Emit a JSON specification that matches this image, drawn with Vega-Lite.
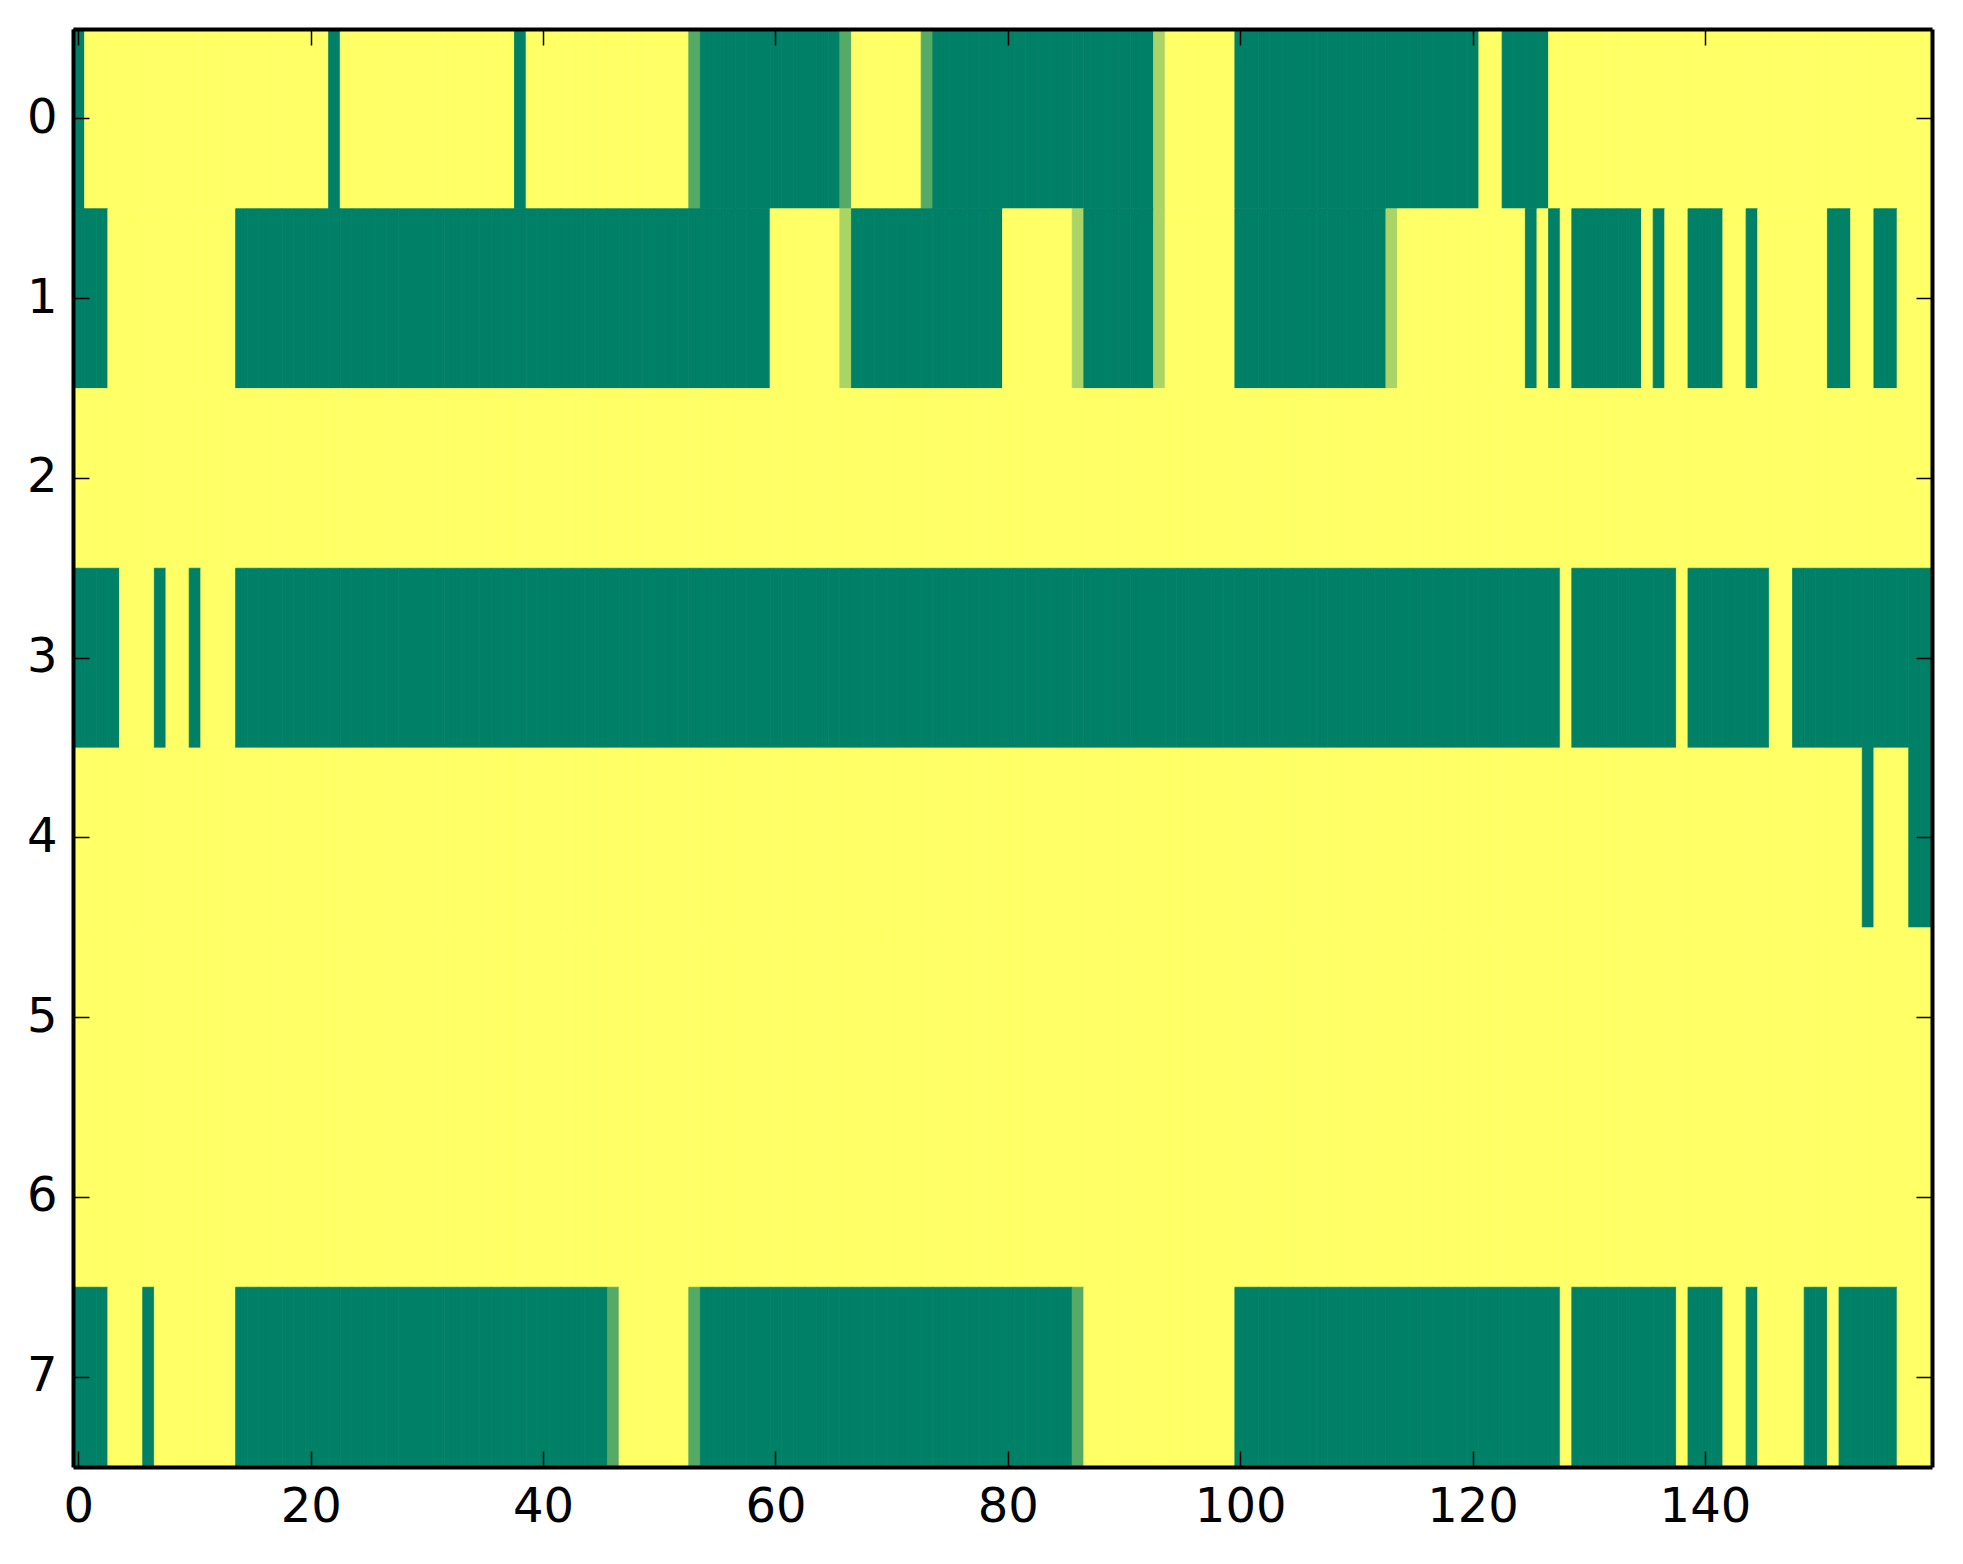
{
  "$schema": "https://vega.github.io/schema/vega-lite/v6.json",
  "width": 1859,
  "height": 1438,
  "autosize": {"type": "none"},
  "padding": {"left": 73, "top": 29, "right": 31, "bottom": 97},
  "background": "white",
  "config": {"view": {"stroke": null}},
  "datasets": {
    "cells": [
{"c":0,"r":0,"v":0},{"c":1,"r":0,"v":1},{"c":2,"r":0,"v":1},{"c":3,"r":0,"v":1},{"c":4,"r":0,"v":1},{"c":5,"r":0,"v":1},{"c":6,"r":0,"v":1},{"c":7,"r":0,"v":1},{"c":8,"r":0,"v":1},{"c":9,"r":0,"v":1},
{"c":10,"r":0,"v":1},{"c":11,"r":0,"v":1},{"c":12,"r":0,"v":1},{"c":13,"r":0,"v":1},{"c":14,"r":0,"v":1},{"c":15,"r":0,"v":1},{"c":16,"r":0,"v":1},{"c":17,"r":0,"v":1},{"c":18,"r":0,"v":1},{"c":19,"r":0,"v":1},
{"c":20,"r":0,"v":1},{"c":21,"r":0,"v":1},{"c":22,"r":0,"v":0},{"c":23,"r":0,"v":1},{"c":24,"r":0,"v":1},{"c":25,"r":0,"v":1},{"c":26,"r":0,"v":1},{"c":27,"r":0,"v":1},{"c":28,"r":0,"v":1},{"c":29,"r":0,"v":1},
{"c":30,"r":0,"v":1},{"c":31,"r":0,"v":1},{"c":32,"r":0,"v":1},{"c":33,"r":0,"v":1},{"c":34,"r":0,"v":1},{"c":35,"r":0,"v":1},{"c":36,"r":0,"v":1},{"c":37,"r":0,"v":1},{"c":38,"r":0,"v":0},{"c":39,"r":0,"v":1},
{"c":40,"r":0,"v":1},{"c":41,"r":0,"v":1},{"c":42,"r":0,"v":1},{"c":43,"r":0,"v":1},{"c":44,"r":0,"v":1},{"c":45,"r":0,"v":1},{"c":46,"r":0,"v":1},{"c":47,"r":0,"v":1},{"c":48,"r":0,"v":1},{"c":49,"r":0,"v":1},
{"c":50,"r":0,"v":1},{"c":51,"r":0,"v":1},{"c":52,"r":0,"v":1},{"c":53,"r":0,"v":0.333},{"c":54,"r":0,"v":0},{"c":55,"r":0,"v":0},{"c":56,"r":0,"v":0},{"c":57,"r":0,"v":0},{"c":58,"r":0,"v":0},{"c":59,"r":0,"v":0},
{"c":60,"r":0,"v":0},{"c":61,"r":0,"v":0},{"c":62,"r":0,"v":0},{"c":63,"r":0,"v":0},{"c":64,"r":0,"v":0},{"c":65,"r":0,"v":0},{"c":66,"r":0,"v":0.333},{"c":67,"r":0,"v":1},{"c":68,"r":0,"v":1},{"c":69,"r":0,"v":1},
{"c":70,"r":0,"v":1},{"c":71,"r":0,"v":1},{"c":72,"r":0,"v":1},{"c":73,"r":0,"v":0.333},{"c":74,"r":0,"v":0},{"c":75,"r":0,"v":0},{"c":76,"r":0,"v":0},{"c":77,"r":0,"v":0},{"c":78,"r":0,"v":0},{"c":79,"r":0,"v":0},
{"c":80,"r":0,"v":0},{"c":81,"r":0,"v":0},{"c":82,"r":0,"v":0},{"c":83,"r":0,"v":0},{"c":84,"r":0,"v":0},{"c":85,"r":0,"v":0},{"c":86,"r":0,"v":0},{"c":87,"r":0,"v":0},{"c":88,"r":0,"v":0},{"c":89,"r":0,"v":0},
{"c":90,"r":0,"v":0},{"c":91,"r":0,"v":0},{"c":92,"r":0,"v":0},{"c":93,"r":0,"v":0.667},{"c":94,"r":0,"v":1},{"c":95,"r":0,"v":1},{"c":96,"r":0,"v":1},{"c":97,"r":0,"v":1},{"c":98,"r":0,"v":1},{"c":99,"r":0,"v":1},
{"c":100,"r":0,"v":0},{"c":101,"r":0,"v":0},{"c":102,"r":0,"v":0},{"c":103,"r":0,"v":0},{"c":104,"r":0,"v":0},{"c":105,"r":0,"v":0},{"c":106,"r":0,"v":0},{"c":107,"r":0,"v":0},{"c":108,"r":0,"v":0},{"c":109,"r":0,"v":0},
{"c":110,"r":0,"v":0},{"c":111,"r":0,"v":0},{"c":112,"r":0,"v":0},{"c":113,"r":0,"v":0},{"c":114,"r":0,"v":0},{"c":115,"r":0,"v":0},{"c":116,"r":0,"v":0},{"c":117,"r":0,"v":0},{"c":118,"r":0,"v":0},{"c":119,"r":0,"v":0},
{"c":120,"r":0,"v":0},{"c":121,"r":0,"v":1},{"c":122,"r":0,"v":1},{"c":123,"r":0,"v":0},{"c":124,"r":0,"v":0},{"c":125,"r":0,"v":0},{"c":126,"r":0,"v":0},{"c":127,"r":0,"v":1},{"c":128,"r":0,"v":1},{"c":129,"r":0,"v":1},
{"c":130,"r":0,"v":1},{"c":131,"r":0,"v":1},{"c":132,"r":0,"v":1},{"c":133,"r":0,"v":1},{"c":134,"r":0,"v":1},{"c":135,"r":0,"v":1},{"c":136,"r":0,"v":1},{"c":137,"r":0,"v":1},{"c":138,"r":0,"v":1},{"c":139,"r":0,"v":1},
{"c":140,"r":0,"v":1},{"c":141,"r":0,"v":1},{"c":142,"r":0,"v":1},{"c":143,"r":0,"v":1},{"c":144,"r":0,"v":1},{"c":145,"r":0,"v":1},{"c":146,"r":0,"v":1},{"c":147,"r":0,"v":1},{"c":148,"r":0,"v":1},{"c":149,"r":0,"v":1},
{"c":150,"r":0,"v":1},{"c":151,"r":0,"v":1},{"c":152,"r":0,"v":1},{"c":153,"r":0,"v":1},{"c":154,"r":0,"v":1},{"c":155,"r":0,"v":1},{"c":156,"r":0,"v":1},{"c":157,"r":0,"v":1},{"c":158,"r":0,"v":1},{"c":159,"r":0,"v":1},

{"c":0,"r":1,"v":0},{"c":1,"r":1,"v":0},{"c":2,"r":1,"v":0},{"c":3,"r":1,"v":1},{"c":4,"r":1,"v":1},{"c":5,"r":1,"v":1},{"c":6,"r":1,"v":1},{"c":7,"r":1,"v":1},{"c":8,"r":1,"v":1},{"c":9,"r":1,"v":1},
{"c":10,"r":1,"v":1},{"c":11,"r":1,"v":1},{"c":12,"r":1,"v":1},{"c":13,"r":1,"v":1},{"c":14,"r":1,"v":0},{"c":15,"r":1,"v":0},{"c":16,"r":1,"v":0},{"c":17,"r":1,"v":0},{"c":18,"r":1,"v":0},{"c":19,"r":1,"v":0},
{"c":20,"r":1,"v":0},{"c":21,"r":1,"v":0},{"c":22,"r":1,"v":0},{"c":23,"r":1,"v":0},{"c":24,"r":1,"v":0},{"c":25,"r":1,"v":0},{"c":26,"r":1,"v":0},{"c":27,"r":1,"v":0},{"c":28,"r":1,"v":0},{"c":29,"r":1,"v":0},
{"c":30,"r":1,"v":0},{"c":31,"r":1,"v":0},{"c":32,"r":1,"v":0},{"c":33,"r":1,"v":0},{"c":34,"r":1,"v":0},{"c":35,"r":1,"v":0},{"c":36,"r":1,"v":0},{"c":37,"r":1,"v":0},{"c":38,"r":1,"v":0},{"c":39,"r":1,"v":0},
{"c":40,"r":1,"v":0},{"c":41,"r":1,"v":0},{"c":42,"r":1,"v":0},{"c":43,"r":1,"v":0},{"c":44,"r":1,"v":0},{"c":45,"r":1,"v":0},{"c":46,"r":1,"v":0},{"c":47,"r":1,"v":0},{"c":48,"r":1,"v":0},{"c":49,"r":1,"v":0},
{"c":50,"r":1,"v":0},{"c":51,"r":1,"v":0},{"c":52,"r":1,"v":0},{"c":53,"r":1,"v":0},{"c":54,"r":1,"v":0},{"c":55,"r":1,"v":0},{"c":56,"r":1,"v":0},{"c":57,"r":1,"v":0},{"c":58,"r":1,"v":0},{"c":59,"r":1,"v":0},
{"c":60,"r":1,"v":1},{"c":61,"r":1,"v":1},{"c":62,"r":1,"v":1},{"c":63,"r":1,"v":1},{"c":64,"r":1,"v":1},{"c":65,"r":1,"v":1},{"c":66,"r":1,"v":0.667},{"c":67,"r":1,"v":0},{"c":68,"r":1,"v":0},{"c":69,"r":1,"v":0},
{"c":70,"r":1,"v":0},{"c":71,"r":1,"v":0},{"c":72,"r":1,"v":0},{"c":73,"r":1,"v":0},{"c":74,"r":1,"v":0},{"c":75,"r":1,"v":0},{"c":76,"r":1,"v":0},{"c":77,"r":1,"v":0},{"c":78,"r":1,"v":0},{"c":79,"r":1,"v":0},
{"c":80,"r":1,"v":1},{"c":81,"r":1,"v":1},{"c":82,"r":1,"v":1},{"c":83,"r":1,"v":1},{"c":84,"r":1,"v":1},{"c":85,"r":1,"v":1},{"c":86,"r":1,"v":0.667},{"c":87,"r":1,"v":0},{"c":88,"r":1,"v":0},{"c":89,"r":1,"v":0},
{"c":90,"r":1,"v":0},{"c":91,"r":1,"v":0},{"c":92,"r":1,"v":0},{"c":93,"r":1,"v":0.667},{"c":94,"r":1,"v":1},{"c":95,"r":1,"v":1},{"c":96,"r":1,"v":1},{"c":97,"r":1,"v":1},{"c":98,"r":1,"v":1},{"c":99,"r":1,"v":1},
{"c":100,"r":1,"v":0},{"c":101,"r":1,"v":0},{"c":102,"r":1,"v":0},{"c":103,"r":1,"v":0},{"c":104,"r":1,"v":0},{"c":105,"r":1,"v":0},{"c":106,"r":1,"v":0},{"c":107,"r":1,"v":0},{"c":108,"r":1,"v":0},{"c":109,"r":1,"v":0},
{"c":110,"r":1,"v":0},{"c":111,"r":1,"v":0},{"c":112,"r":1,"v":0},{"c":113,"r":1,"v":0.667},{"c":114,"r":1,"v":1},{"c":115,"r":1,"v":1},{"c":116,"r":1,"v":1},{"c":117,"r":1,"v":1},{"c":118,"r":1,"v":1},{"c":119,"r":1,"v":1},
{"c":120,"r":1,"v":1},{"c":121,"r":1,"v":1},{"c":122,"r":1,"v":1},{"c":123,"r":1,"v":1},{"c":124,"r":1,"v":1},{"c":125,"r":1,"v":0},{"c":126,"r":1,"v":1},{"c":127,"r":1,"v":0},{"c":128,"r":1,"v":1},{"c":129,"r":1,"v":0},
{"c":130,"r":1,"v":0},{"c":131,"r":1,"v":0},{"c":132,"r":1,"v":0},{"c":133,"r":1,"v":0},{"c":134,"r":1,"v":0},{"c":135,"r":1,"v":1},{"c":136,"r":1,"v":0},{"c":137,"r":1,"v":1},{"c":138,"r":1,"v":1},{"c":139,"r":1,"v":0},
{"c":140,"r":1,"v":0},{"c":141,"r":1,"v":0},{"c":142,"r":1,"v":1},{"c":143,"r":1,"v":1},{"c":144,"r":1,"v":0},{"c":145,"r":1,"v":1},{"c":146,"r":1,"v":1},{"c":147,"r":1,"v":1},{"c":148,"r":1,"v":1},{"c":149,"r":1,"v":1},
{"c":150,"r":1,"v":1},{"c":151,"r":1,"v":0},{"c":152,"r":1,"v":0},{"c":153,"r":1,"v":1},{"c":154,"r":1,"v":1},{"c":155,"r":1,"v":0},{"c":156,"r":1,"v":0},{"c":157,"r":1,"v":1},{"c":158,"r":1,"v":1},{"c":159,"r":1,"v":1},

{"c":0,"r":2,"v":1},{"c":1,"r":2,"v":1},{"c":2,"r":2,"v":1},{"c":3,"r":2,"v":1},{"c":4,"r":2,"v":1},{"c":5,"r":2,"v":1},{"c":6,"r":2,"v":1},{"c":7,"r":2,"v":1},{"c":8,"r":2,"v":1},{"c":9,"r":2,"v":1},
{"c":10,"r":2,"v":1},{"c":11,"r":2,"v":1},{"c":12,"r":2,"v":1},{"c":13,"r":2,"v":1},{"c":14,"r":2,"v":1},{"c":15,"r":2,"v":1},{"c":16,"r":2,"v":1},{"c":17,"r":2,"v":1},{"c":18,"r":2,"v":1},{"c":19,"r":2,"v":1},
{"c":20,"r":2,"v":1},{"c":21,"r":2,"v":1},{"c":22,"r":2,"v":1},{"c":23,"r":2,"v":1},{"c":24,"r":2,"v":1},{"c":25,"r":2,"v":1},{"c":26,"r":2,"v":1},{"c":27,"r":2,"v":1},{"c":28,"r":2,"v":1},{"c":29,"r":2,"v":1},
{"c":30,"r":2,"v":1},{"c":31,"r":2,"v":1},{"c":32,"r":2,"v":1},{"c":33,"r":2,"v":1},{"c":34,"r":2,"v":1},{"c":35,"r":2,"v":1},{"c":36,"r":2,"v":1},{"c":37,"r":2,"v":1},{"c":38,"r":2,"v":1},{"c":39,"r":2,"v":1},
{"c":40,"r":2,"v":1},{"c":41,"r":2,"v":1},{"c":42,"r":2,"v":1},{"c":43,"r":2,"v":1},{"c":44,"r":2,"v":1},{"c":45,"r":2,"v":1},{"c":46,"r":2,"v":1},{"c":47,"r":2,"v":1},{"c":48,"r":2,"v":1},{"c":49,"r":2,"v":1},
{"c":50,"r":2,"v":1},{"c":51,"r":2,"v":1},{"c":52,"r":2,"v":1},{"c":53,"r":2,"v":1},{"c":54,"r":2,"v":1},{"c":55,"r":2,"v":1},{"c":56,"r":2,"v":1},{"c":57,"r":2,"v":1},{"c":58,"r":2,"v":1},{"c":59,"r":2,"v":1},
{"c":60,"r":2,"v":1},{"c":61,"r":2,"v":1},{"c":62,"r":2,"v":1},{"c":63,"r":2,"v":1},{"c":64,"r":2,"v":1},{"c":65,"r":2,"v":1},{"c":66,"r":2,"v":1},{"c":67,"r":2,"v":1},{"c":68,"r":2,"v":1},{"c":69,"r":2,"v":1},
{"c":70,"r":2,"v":1},{"c":71,"r":2,"v":1},{"c":72,"r":2,"v":1},{"c":73,"r":2,"v":1},{"c":74,"r":2,"v":1},{"c":75,"r":2,"v":1},{"c":76,"r":2,"v":1},{"c":77,"r":2,"v":1},{"c":78,"r":2,"v":1},{"c":79,"r":2,"v":1},
{"c":80,"r":2,"v":1},{"c":81,"r":2,"v":1},{"c":82,"r":2,"v":1},{"c":83,"r":2,"v":1},{"c":84,"r":2,"v":1},{"c":85,"r":2,"v":1},{"c":86,"r":2,"v":1},{"c":87,"r":2,"v":1},{"c":88,"r":2,"v":1},{"c":89,"r":2,"v":1},
{"c":90,"r":2,"v":1},{"c":91,"r":2,"v":1},{"c":92,"r":2,"v":1},{"c":93,"r":2,"v":1},{"c":94,"r":2,"v":1},{"c":95,"r":2,"v":1},{"c":96,"r":2,"v":1},{"c":97,"r":2,"v":1},{"c":98,"r":2,"v":1},{"c":99,"r":2,"v":1},
{"c":100,"r":2,"v":1},{"c":101,"r":2,"v":1},{"c":102,"r":2,"v":1},{"c":103,"r":2,"v":1},{"c":104,"r":2,"v":1},{"c":105,"r":2,"v":1},{"c":106,"r":2,"v":1},{"c":107,"r":2,"v":1},{"c":108,"r":2,"v":1},{"c":109,"r":2,"v":1},
{"c":110,"r":2,"v":1},{"c":111,"r":2,"v":1},{"c":112,"r":2,"v":1},{"c":113,"r":2,"v":1},{"c":114,"r":2,"v":1},{"c":115,"r":2,"v":1},{"c":116,"r":2,"v":1},{"c":117,"r":2,"v":1},{"c":118,"r":2,"v":1},{"c":119,"r":2,"v":1},
{"c":120,"r":2,"v":1},{"c":121,"r":2,"v":1},{"c":122,"r":2,"v":1},{"c":123,"r":2,"v":1},{"c":124,"r":2,"v":1},{"c":125,"r":2,"v":1},{"c":126,"r":2,"v":1},{"c":127,"r":2,"v":1},{"c":128,"r":2,"v":1},{"c":129,"r":2,"v":1},
{"c":130,"r":2,"v":1},{"c":131,"r":2,"v":1},{"c":132,"r":2,"v":1},{"c":133,"r":2,"v":1},{"c":134,"r":2,"v":1},{"c":135,"r":2,"v":1},{"c":136,"r":2,"v":1},{"c":137,"r":2,"v":1},{"c":138,"r":2,"v":1},{"c":139,"r":2,"v":1},
{"c":140,"r":2,"v":1},{"c":141,"r":2,"v":1},{"c":142,"r":2,"v":1},{"c":143,"r":2,"v":1},{"c":144,"r":2,"v":1},{"c":145,"r":2,"v":1},{"c":146,"r":2,"v":1},{"c":147,"r":2,"v":1},{"c":148,"r":2,"v":1},{"c":149,"r":2,"v":1},
{"c":150,"r":2,"v":1},{"c":151,"r":2,"v":1},{"c":152,"r":2,"v":1},{"c":153,"r":2,"v":1},{"c":154,"r":2,"v":1},{"c":155,"r":2,"v":1},{"c":156,"r":2,"v":1},{"c":157,"r":2,"v":1},{"c":158,"r":2,"v":1},{"c":159,"r":2,"v":1},

{"c":0,"r":3,"v":0},{"c":1,"r":3,"v":0},{"c":2,"r":3,"v":0},{"c":3,"r":3,"v":0},{"c":4,"r":3,"v":1},{"c":5,"r":3,"v":1},{"c":6,"r":3,"v":1},{"c":7,"r":3,"v":0},{"c":8,"r":3,"v":1},{"c":9,"r":3,"v":1},
{"c":10,"r":3,"v":0},{"c":11,"r":3,"v":1},{"c":12,"r":3,"v":1},{"c":13,"r":3,"v":1},{"c":14,"r":3,"v":0},{"c":15,"r":3,"v":0},{"c":16,"r":3,"v":0},{"c":17,"r":3,"v":0},{"c":18,"r":3,"v":0},{"c":19,"r":3,"v":0},
{"c":20,"r":3,"v":0},{"c":21,"r":3,"v":0},{"c":22,"r":3,"v":0},{"c":23,"r":3,"v":0},{"c":24,"r":3,"v":0},{"c":25,"r":3,"v":0},{"c":26,"r":3,"v":0},{"c":27,"r":3,"v":0},{"c":28,"r":3,"v":0},{"c":29,"r":3,"v":0},
{"c":30,"r":3,"v":0},{"c":31,"r":3,"v":0},{"c":32,"r":3,"v":0},{"c":33,"r":3,"v":0},{"c":34,"r":3,"v":0},{"c":35,"r":3,"v":0},{"c":36,"r":3,"v":0},{"c":37,"r":3,"v":0},{"c":38,"r":3,"v":0},{"c":39,"r":3,"v":0},
{"c":40,"r":3,"v":0},{"c":41,"r":3,"v":0},{"c":42,"r":3,"v":0},{"c":43,"r":3,"v":0},{"c":44,"r":3,"v":0},{"c":45,"r":3,"v":0},{"c":46,"r":3,"v":0},{"c":47,"r":3,"v":0},{"c":48,"r":3,"v":0},{"c":49,"r":3,"v":0},
{"c":50,"r":3,"v":0},{"c":51,"r":3,"v":0},{"c":52,"r":3,"v":0},{"c":53,"r":3,"v":0},{"c":54,"r":3,"v":0},{"c":55,"r":3,"v":0},{"c":56,"r":3,"v":0},{"c":57,"r":3,"v":0},{"c":58,"r":3,"v":0},{"c":59,"r":3,"v":0},
{"c":60,"r":3,"v":0},{"c":61,"r":3,"v":0},{"c":62,"r":3,"v":0},{"c":63,"r":3,"v":0},{"c":64,"r":3,"v":0},{"c":65,"r":3,"v":0},{"c":66,"r":3,"v":0},{"c":67,"r":3,"v":0},{"c":68,"r":3,"v":0},{"c":69,"r":3,"v":0},
{"c":70,"r":3,"v":0},{"c":71,"r":3,"v":0},{"c":72,"r":3,"v":0},{"c":73,"r":3,"v":0},{"c":74,"r":3,"v":0},{"c":75,"r":3,"v":0},{"c":76,"r":3,"v":0},{"c":77,"r":3,"v":0},{"c":78,"r":3,"v":0},{"c":79,"r":3,"v":0},
{"c":80,"r":3,"v":0},{"c":81,"r":3,"v":0},{"c":82,"r":3,"v":0},{"c":83,"r":3,"v":0},{"c":84,"r":3,"v":0},{"c":85,"r":3,"v":0},{"c":86,"r":3,"v":0},{"c":87,"r":3,"v":0},{"c":88,"r":3,"v":0},{"c":89,"r":3,"v":0},
{"c":90,"r":3,"v":0},{"c":91,"r":3,"v":0},{"c":92,"r":3,"v":0},{"c":93,"r":3,"v":0},{"c":94,"r":3,"v":0},{"c":95,"r":3,"v":0},{"c":96,"r":3,"v":0},{"c":97,"r":3,"v":0},{"c":98,"r":3,"v":0},{"c":99,"r":3,"v":0},
{"c":100,"r":3,"v":0},{"c":101,"r":3,"v":0},{"c":102,"r":3,"v":0},{"c":103,"r":3,"v":0},{"c":104,"r":3,"v":0},{"c":105,"r":3,"v":0},{"c":106,"r":3,"v":0},{"c":107,"r":3,"v":0},{"c":108,"r":3,"v":0},{"c":109,"r":3,"v":0},
{"c":110,"r":3,"v":0},{"c":111,"r":3,"v":0},{"c":112,"r":3,"v":0},{"c":113,"r":3,"v":0},{"c":114,"r":3,"v":0},{"c":115,"r":3,"v":0},{"c":116,"r":3,"v":0},{"c":117,"r":3,"v":0},{"c":118,"r":3,"v":0},{"c":119,"r":3,"v":0},
{"c":120,"r":3,"v":0},{"c":121,"r":3,"v":0},{"c":122,"r":3,"v":0},{"c":123,"r":3,"v":0},{"c":124,"r":3,"v":0},{"c":125,"r":3,"v":0},{"c":126,"r":3,"v":0},{"c":127,"r":3,"v":0},{"c":128,"r":3,"v":1},{"c":129,"r":3,"v":0},
{"c":130,"r":3,"v":0},{"c":131,"r":3,"v":0},{"c":132,"r":3,"v":0},{"c":133,"r":3,"v":0},{"c":134,"r":3,"v":0},{"c":135,"r":3,"v":0},{"c":136,"r":3,"v":0},{"c":137,"r":3,"v":0},{"c":138,"r":3,"v":1},{"c":139,"r":3,"v":0},
{"c":140,"r":3,"v":0},{"c":141,"r":3,"v":0},{"c":142,"r":3,"v":0},{"c":143,"r":3,"v":0},{"c":144,"r":3,"v":0},{"c":145,"r":3,"v":0},{"c":146,"r":3,"v":1},{"c":147,"r":3,"v":1},{"c":148,"r":3,"v":0},{"c":149,"r":3,"v":0},
{"c":150,"r":3,"v":0},{"c":151,"r":3,"v":0},{"c":152,"r":3,"v":0},{"c":153,"r":3,"v":0},{"c":154,"r":3,"v":0},{"c":155,"r":3,"v":0},{"c":156,"r":3,"v":0},{"c":157,"r":3,"v":0},{"c":158,"r":3,"v":0},{"c":159,"r":3,"v":0},

{"c":0,"r":4,"v":1},{"c":1,"r":4,"v":1},{"c":2,"r":4,"v":1},{"c":3,"r":4,"v":1},{"c":4,"r":4,"v":1},{"c":5,"r":4,"v":1},{"c":6,"r":4,"v":1},{"c":7,"r":4,"v":1},{"c":8,"r":4,"v":1},{"c":9,"r":4,"v":1},
{"c":10,"r":4,"v":1},{"c":11,"r":4,"v":1},{"c":12,"r":4,"v":1},{"c":13,"r":4,"v":1},{"c":14,"r":4,"v":1},{"c":15,"r":4,"v":1},{"c":16,"r":4,"v":1},{"c":17,"r":4,"v":1},{"c":18,"r":4,"v":1},{"c":19,"r":4,"v":1},
{"c":20,"r":4,"v":1},{"c":21,"r":4,"v":1},{"c":22,"r":4,"v":1},{"c":23,"r":4,"v":1},{"c":24,"r":4,"v":1},{"c":25,"r":4,"v":1},{"c":26,"r":4,"v":1},{"c":27,"r":4,"v":1},{"c":28,"r":4,"v":1},{"c":29,"r":4,"v":1},
{"c":30,"r":4,"v":1},{"c":31,"r":4,"v":1},{"c":32,"r":4,"v":1},{"c":33,"r":4,"v":1},{"c":34,"r":4,"v":1},{"c":35,"r":4,"v":1},{"c":36,"r":4,"v":1},{"c":37,"r":4,"v":1},{"c":38,"r":4,"v":1},{"c":39,"r":4,"v":1},
{"c":40,"r":4,"v":1},{"c":41,"r":4,"v":1},{"c":42,"r":4,"v":1},{"c":43,"r":4,"v":1},{"c":44,"r":4,"v":1},{"c":45,"r":4,"v":1},{"c":46,"r":4,"v":1},{"c":47,"r":4,"v":1},{"c":48,"r":4,"v":1},{"c":49,"r":4,"v":1},
{"c":50,"r":4,"v":1},{"c":51,"r":4,"v":1},{"c":52,"r":4,"v":1},{"c":53,"r":4,"v":1},{"c":54,"r":4,"v":1},{"c":55,"r":4,"v":1},{"c":56,"r":4,"v":1},{"c":57,"r":4,"v":1},{"c":58,"r":4,"v":1},{"c":59,"r":4,"v":1},
{"c":60,"r":4,"v":1},{"c":61,"r":4,"v":1},{"c":62,"r":4,"v":1},{"c":63,"r":4,"v":1},{"c":64,"r":4,"v":1},{"c":65,"r":4,"v":1},{"c":66,"r":4,"v":1},{"c":67,"r":4,"v":1},{"c":68,"r":4,"v":1},{"c":69,"r":4,"v":1},
{"c":70,"r":4,"v":1},{"c":71,"r":4,"v":1},{"c":72,"r":4,"v":1},{"c":73,"r":4,"v":1},{"c":74,"r":4,"v":1},{"c":75,"r":4,"v":1},{"c":76,"r":4,"v":1},{"c":77,"r":4,"v":1},{"c":78,"r":4,"v":1},{"c":79,"r":4,"v":1},
{"c":80,"r":4,"v":1},{"c":81,"r":4,"v":1},{"c":82,"r":4,"v":1},{"c":83,"r":4,"v":1},{"c":84,"r":4,"v":1},{"c":85,"r":4,"v":1},{"c":86,"r":4,"v":1},{"c":87,"r":4,"v":1},{"c":88,"r":4,"v":1},{"c":89,"r":4,"v":1},
{"c":90,"r":4,"v":1},{"c":91,"r":4,"v":1},{"c":92,"r":4,"v":1},{"c":93,"r":4,"v":1},{"c":94,"r":4,"v":1},{"c":95,"r":4,"v":1},{"c":96,"r":4,"v":1},{"c":97,"r":4,"v":1},{"c":98,"r":4,"v":1},{"c":99,"r":4,"v":1},
{"c":100,"r":4,"v":1},{"c":101,"r":4,"v":1},{"c":102,"r":4,"v":1},{"c":103,"r":4,"v":1},{"c":104,"r":4,"v":1},{"c":105,"r":4,"v":1},{"c":106,"r":4,"v":1},{"c":107,"r":4,"v":1},{"c":108,"r":4,"v":1},{"c":109,"r":4,"v":1},
{"c":110,"r":4,"v":1},{"c":111,"r":4,"v":1},{"c":112,"r":4,"v":1},{"c":113,"r":4,"v":1},{"c":114,"r":4,"v":1},{"c":115,"r":4,"v":1},{"c":116,"r":4,"v":1},{"c":117,"r":4,"v":1},{"c":118,"r":4,"v":1},{"c":119,"r":4,"v":1},
{"c":120,"r":4,"v":1},{"c":121,"r":4,"v":1},{"c":122,"r":4,"v":1},{"c":123,"r":4,"v":1},{"c":124,"r":4,"v":1},{"c":125,"r":4,"v":1},{"c":126,"r":4,"v":1},{"c":127,"r":4,"v":1},{"c":128,"r":4,"v":1},{"c":129,"r":4,"v":1},
{"c":130,"r":4,"v":1},{"c":131,"r":4,"v":1},{"c":132,"r":4,"v":1},{"c":133,"r":4,"v":1},{"c":134,"r":4,"v":1},{"c":135,"r":4,"v":1},{"c":136,"r":4,"v":1},{"c":137,"r":4,"v":1},{"c":138,"r":4,"v":1},{"c":139,"r":4,"v":1},
{"c":140,"r":4,"v":1},{"c":141,"r":4,"v":1},{"c":142,"r":4,"v":1},{"c":143,"r":4,"v":1},{"c":144,"r":4,"v":1},{"c":145,"r":4,"v":1},{"c":146,"r":4,"v":1},{"c":147,"r":4,"v":1},{"c":148,"r":4,"v":1},{"c":149,"r":4,"v":1},
{"c":150,"r":4,"v":1},{"c":151,"r":4,"v":1},{"c":152,"r":4,"v":1},{"c":153,"r":4,"v":1},{"c":154,"r":4,"v":0},{"c":155,"r":4,"v":1},{"c":156,"r":4,"v":1},{"c":157,"r":4,"v":1},{"c":158,"r":4,"v":0},{"c":159,"r":4,"v":0},

{"c":0,"r":5,"v":1},{"c":1,"r":5,"v":1},{"c":2,"r":5,"v":1},{"c":3,"r":5,"v":1},{"c":4,"r":5,"v":1},{"c":5,"r":5,"v":1},{"c":6,"r":5,"v":1},{"c":7,"r":5,"v":1},{"c":8,"r":5,"v":1},{"c":9,"r":5,"v":1},
{"c":10,"r":5,"v":1},{"c":11,"r":5,"v":1},{"c":12,"r":5,"v":1},{"c":13,"r":5,"v":1},{"c":14,"r":5,"v":1},{"c":15,"r":5,"v":1},{"c":16,"r":5,"v":1},{"c":17,"r":5,"v":1},{"c":18,"r":5,"v":1},{"c":19,"r":5,"v":1},
{"c":20,"r":5,"v":1},{"c":21,"r":5,"v":1},{"c":22,"r":5,"v":1},{"c":23,"r":5,"v":1},{"c":24,"r":5,"v":1},{"c":25,"r":5,"v":1},{"c":26,"r":5,"v":1},{"c":27,"r":5,"v":1},{"c":28,"r":5,"v":1},{"c":29,"r":5,"v":1},
{"c":30,"r":5,"v":1},{"c":31,"r":5,"v":1},{"c":32,"r":5,"v":1},{"c":33,"r":5,"v":1},{"c":34,"r":5,"v":1},{"c":35,"r":5,"v":1},{"c":36,"r":5,"v":1},{"c":37,"r":5,"v":1},{"c":38,"r":5,"v":1},{"c":39,"r":5,"v":1},
{"c":40,"r":5,"v":1},{"c":41,"r":5,"v":1},{"c":42,"r":5,"v":1},{"c":43,"r":5,"v":1},{"c":44,"r":5,"v":1},{"c":45,"r":5,"v":1},{"c":46,"r":5,"v":1},{"c":47,"r":5,"v":1},{"c":48,"r":5,"v":1},{"c":49,"r":5,"v":1},
{"c":50,"r":5,"v":1},{"c":51,"r":5,"v":1},{"c":52,"r":5,"v":1},{"c":53,"r":5,"v":1},{"c":54,"r":5,"v":1},{"c":55,"r":5,"v":1},{"c":56,"r":5,"v":1},{"c":57,"r":5,"v":1},{"c":58,"r":5,"v":1},{"c":59,"r":5,"v":1},
{"c":60,"r":5,"v":1},{"c":61,"r":5,"v":1},{"c":62,"r":5,"v":1},{"c":63,"r":5,"v":1},{"c":64,"r":5,"v":1},{"c":65,"r":5,"v":1},{"c":66,"r":5,"v":1},{"c":67,"r":5,"v":1},{"c":68,"r":5,"v":1},{"c":69,"r":5,"v":1},
{"c":70,"r":5,"v":1},{"c":71,"r":5,"v":1},{"c":72,"r":5,"v":1},{"c":73,"r":5,"v":1},{"c":74,"r":5,"v":1},{"c":75,"r":5,"v":1},{"c":76,"r":5,"v":1},{"c":77,"r":5,"v":1},{"c":78,"r":5,"v":1},{"c":79,"r":5,"v":1},
{"c":80,"r":5,"v":1},{"c":81,"r":5,"v":1},{"c":82,"r":5,"v":1},{"c":83,"r":5,"v":1},{"c":84,"r":5,"v":1},{"c":85,"r":5,"v":1},{"c":86,"r":5,"v":1},{"c":87,"r":5,"v":1},{"c":88,"r":5,"v":1},{"c":89,"r":5,"v":1},
{"c":90,"r":5,"v":1},{"c":91,"r":5,"v":1},{"c":92,"r":5,"v":1},{"c":93,"r":5,"v":1},{"c":94,"r":5,"v":1},{"c":95,"r":5,"v":1},{"c":96,"r":5,"v":1},{"c":97,"r":5,"v":1},{"c":98,"r":5,"v":1},{"c":99,"r":5,"v":1},
{"c":100,"r":5,"v":1},{"c":101,"r":5,"v":1},{"c":102,"r":5,"v":1},{"c":103,"r":5,"v":1},{"c":104,"r":5,"v":1},{"c":105,"r":5,"v":1},{"c":106,"r":5,"v":1},{"c":107,"r":5,"v":1},{"c":108,"r":5,"v":1},{"c":109,"r":5,"v":1},
{"c":110,"r":5,"v":1},{"c":111,"r":5,"v":1},{"c":112,"r":5,"v":1},{"c":113,"r":5,"v":1},{"c":114,"r":5,"v":1},{"c":115,"r":5,"v":1},{"c":116,"r":5,"v":1},{"c":117,"r":5,"v":1},{"c":118,"r":5,"v":1},{"c":119,"r":5,"v":1},
{"c":120,"r":5,"v":1},{"c":121,"r":5,"v":1},{"c":122,"r":5,"v":1},{"c":123,"r":5,"v":1},{"c":124,"r":5,"v":1},{"c":125,"r":5,"v":1},{"c":126,"r":5,"v":1},{"c":127,"r":5,"v":1},{"c":128,"r":5,"v":1},{"c":129,"r":5,"v":1},
{"c":130,"r":5,"v":1},{"c":131,"r":5,"v":1},{"c":132,"r":5,"v":1},{"c":133,"r":5,"v":1},{"c":134,"r":5,"v":1},{"c":135,"r":5,"v":1},{"c":136,"r":5,"v":1},{"c":137,"r":5,"v":1},{"c":138,"r":5,"v":1},{"c":139,"r":5,"v":1},
{"c":140,"r":5,"v":1},{"c":141,"r":5,"v":1},{"c":142,"r":5,"v":1},{"c":143,"r":5,"v":1},{"c":144,"r":5,"v":1},{"c":145,"r":5,"v":1},{"c":146,"r":5,"v":1},{"c":147,"r":5,"v":1},{"c":148,"r":5,"v":1},{"c":149,"r":5,"v":1},
{"c":150,"r":5,"v":1},{"c":151,"r":5,"v":1},{"c":152,"r":5,"v":1},{"c":153,"r":5,"v":1},{"c":154,"r":5,"v":1},{"c":155,"r":5,"v":1},{"c":156,"r":5,"v":1},{"c":157,"r":5,"v":1},{"c":158,"r":5,"v":1},{"c":159,"r":5,"v":1},

{"c":0,"r":6,"v":1},{"c":1,"r":6,"v":1},{"c":2,"r":6,"v":1},{"c":3,"r":6,"v":1},{"c":4,"r":6,"v":1},{"c":5,"r":6,"v":1},{"c":6,"r":6,"v":1},{"c":7,"r":6,"v":1},{"c":8,"r":6,"v":1},{"c":9,"r":6,"v":1},
{"c":10,"r":6,"v":1},{"c":11,"r":6,"v":1},{"c":12,"r":6,"v":1},{"c":13,"r":6,"v":1},{"c":14,"r":6,"v":1},{"c":15,"r":6,"v":1},{"c":16,"r":6,"v":1},{"c":17,"r":6,"v":1},{"c":18,"r":6,"v":1},{"c":19,"r":6,"v":1},
{"c":20,"r":6,"v":1},{"c":21,"r":6,"v":1},{"c":22,"r":6,"v":1},{"c":23,"r":6,"v":1},{"c":24,"r":6,"v":1},{"c":25,"r":6,"v":1},{"c":26,"r":6,"v":1},{"c":27,"r":6,"v":1},{"c":28,"r":6,"v":1},{"c":29,"r":6,"v":1},
{"c":30,"r":6,"v":1},{"c":31,"r":6,"v":1},{"c":32,"r":6,"v":1},{"c":33,"r":6,"v":1},{"c":34,"r":6,"v":1},{"c":35,"r":6,"v":1},{"c":36,"r":6,"v":1},{"c":37,"r":6,"v":1},{"c":38,"r":6,"v":1},{"c":39,"r":6,"v":1},
{"c":40,"r":6,"v":1},{"c":41,"r":6,"v":1},{"c":42,"r":6,"v":1},{"c":43,"r":6,"v":1},{"c":44,"r":6,"v":1},{"c":45,"r":6,"v":1},{"c":46,"r":6,"v":1},{"c":47,"r":6,"v":1},{"c":48,"r":6,"v":1},{"c":49,"r":6,"v":1},
{"c":50,"r":6,"v":1},{"c":51,"r":6,"v":1},{"c":52,"r":6,"v":1},{"c":53,"r":6,"v":1},{"c":54,"r":6,"v":1},{"c":55,"r":6,"v":1},{"c":56,"r":6,"v":1},{"c":57,"r":6,"v":1},{"c":58,"r":6,"v":1},{"c":59,"r":6,"v":1},
{"c":60,"r":6,"v":1},{"c":61,"r":6,"v":1},{"c":62,"r":6,"v":1},{"c":63,"r":6,"v":1},{"c":64,"r":6,"v":1},{"c":65,"r":6,"v":1},{"c":66,"r":6,"v":1},{"c":67,"r":6,"v":1},{"c":68,"r":6,"v":1},{"c":69,"r":6,"v":1},
{"c":70,"r":6,"v":1},{"c":71,"r":6,"v":1},{"c":72,"r":6,"v":1},{"c":73,"r":6,"v":1},{"c":74,"r":6,"v":1},{"c":75,"r":6,"v":1},{"c":76,"r":6,"v":1},{"c":77,"r":6,"v":1},{"c":78,"r":6,"v":1},{"c":79,"r":6,"v":1},
{"c":80,"r":6,"v":1},{"c":81,"r":6,"v":1},{"c":82,"r":6,"v":1},{"c":83,"r":6,"v":1},{"c":84,"r":6,"v":1},{"c":85,"r":6,"v":1},{"c":86,"r":6,"v":1},{"c":87,"r":6,"v":1},{"c":88,"r":6,"v":1},{"c":89,"r":6,"v":1},
{"c":90,"r":6,"v":1},{"c":91,"r":6,"v":1},{"c":92,"r":6,"v":1},{"c":93,"r":6,"v":1},{"c":94,"r":6,"v":1},{"c":95,"r":6,"v":1},{"c":96,"r":6,"v":1},{"c":97,"r":6,"v":1},{"c":98,"r":6,"v":1},{"c":99,"r":6,"v":1},
{"c":100,"r":6,"v":1},{"c":101,"r":6,"v":1},{"c":102,"r":6,"v":1},{"c":103,"r":6,"v":1},{"c":104,"r":6,"v":1},{"c":105,"r":6,"v":1},{"c":106,"r":6,"v":1},{"c":107,"r":6,"v":1},{"c":108,"r":6,"v":1},{"c":109,"r":6,"v":1},
{"c":110,"r":6,"v":1},{"c":111,"r":6,"v":1},{"c":112,"r":6,"v":1},{"c":113,"r":6,"v":1},{"c":114,"r":6,"v":1},{"c":115,"r":6,"v":1},{"c":116,"r":6,"v":1},{"c":117,"r":6,"v":1},{"c":118,"r":6,"v":1},{"c":119,"r":6,"v":1},
{"c":120,"r":6,"v":1},{"c":121,"r":6,"v":1},{"c":122,"r":6,"v":1},{"c":123,"r":6,"v":1},{"c":124,"r":6,"v":1},{"c":125,"r":6,"v":1},{"c":126,"r":6,"v":1},{"c":127,"r":6,"v":1},{"c":128,"r":6,"v":1},{"c":129,"r":6,"v":1},
{"c":130,"r":6,"v":1},{"c":131,"r":6,"v":1},{"c":132,"r":6,"v":1},{"c":133,"r":6,"v":1},{"c":134,"r":6,"v":1},{"c":135,"r":6,"v":1},{"c":136,"r":6,"v":1},{"c":137,"r":6,"v":1},{"c":138,"r":6,"v":1},{"c":139,"r":6,"v":1},
{"c":140,"r":6,"v":1},{"c":141,"r":6,"v":1},{"c":142,"r":6,"v":1},{"c":143,"r":6,"v":1},{"c":144,"r":6,"v":1},{"c":145,"r":6,"v":1},{"c":146,"r":6,"v":1},{"c":147,"r":6,"v":1},{"c":148,"r":6,"v":1},{"c":149,"r":6,"v":1},
{"c":150,"r":6,"v":1},{"c":151,"r":6,"v":1},{"c":152,"r":6,"v":1},{"c":153,"r":6,"v":1},{"c":154,"r":6,"v":1},{"c":155,"r":6,"v":1},{"c":156,"r":6,"v":1},{"c":157,"r":6,"v":1},{"c":158,"r":6,"v":1},{"c":159,"r":6,"v":1},

{"c":0,"r":7,"v":0},{"c":1,"r":7,"v":0},{"c":2,"r":7,"v":0},{"c":3,"r":7,"v":1},{"c":4,"r":7,"v":1},{"c":5,"r":7,"v":1},{"c":6,"r":7,"v":0},{"c":7,"r":7,"v":1},{"c":8,"r":7,"v":1},{"c":9,"r":7,"v":1},
{"c":10,"r":7,"v":1},{"c":11,"r":7,"v":1},{"c":12,"r":7,"v":1},{"c":13,"r":7,"v":1},{"c":14,"r":7,"v":0},{"c":15,"r":7,"v":0},{"c":16,"r":7,"v":0},{"c":17,"r":7,"v":0},{"c":18,"r":7,"v":0},{"c":19,"r":7,"v":0},
{"c":20,"r":7,"v":0},{"c":21,"r":7,"v":0},{"c":22,"r":7,"v":0},{"c":23,"r":7,"v":0},{"c":24,"r":7,"v":0},{"c":25,"r":7,"v":0},{"c":26,"r":7,"v":0},{"c":27,"r":7,"v":0},{"c":28,"r":7,"v":0},{"c":29,"r":7,"v":0},
{"c":30,"r":7,"v":0},{"c":31,"r":7,"v":0},{"c":32,"r":7,"v":0},{"c":33,"r":7,"v":0},{"c":34,"r":7,"v":0},{"c":35,"r":7,"v":0},{"c":36,"r":7,"v":0},{"c":37,"r":7,"v":0},{"c":38,"r":7,"v":0},{"c":39,"r":7,"v":0},
{"c":40,"r":7,"v":0},{"c":41,"r":7,"v":0},{"c":42,"r":7,"v":0},{"c":43,"r":7,"v":0},{"c":44,"r":7,"v":0},{"c":45,"r":7,"v":0},{"c":46,"r":7,"v":0.333},{"c":47,"r":7,"v":1},{"c":48,"r":7,"v":1},{"c":49,"r":7,"v":1},
{"c":50,"r":7,"v":1},{"c":51,"r":7,"v":1},{"c":52,"r":7,"v":1},{"c":53,"r":7,"v":0.333},{"c":54,"r":7,"v":0},{"c":55,"r":7,"v":0},{"c":56,"r":7,"v":0},{"c":57,"r":7,"v":0},{"c":58,"r":7,"v":0},{"c":59,"r":7,"v":0},
{"c":60,"r":7,"v":0},{"c":61,"r":7,"v":0},{"c":62,"r":7,"v":0},{"c":63,"r":7,"v":0},{"c":64,"r":7,"v":0},{"c":65,"r":7,"v":0},{"c":66,"r":7,"v":0},{"c":67,"r":7,"v":0},{"c":68,"r":7,"v":0},{"c":69,"r":7,"v":0},
{"c":70,"r":7,"v":0},{"c":71,"r":7,"v":0},{"c":72,"r":7,"v":0},{"c":73,"r":7,"v":0},{"c":74,"r":7,"v":0},{"c":75,"r":7,"v":0},{"c":76,"r":7,"v":0},{"c":77,"r":7,"v":0},{"c":78,"r":7,"v":0},{"c":79,"r":7,"v":0},
{"c":80,"r":7,"v":0},{"c":81,"r":7,"v":0},{"c":82,"r":7,"v":0},{"c":83,"r":7,"v":0},{"c":84,"r":7,"v":0},{"c":85,"r":7,"v":0},{"c":86,"r":7,"v":0.333},{"c":87,"r":7,"v":1},{"c":88,"r":7,"v":1},{"c":89,"r":7,"v":1},
{"c":90,"r":7,"v":1},{"c":91,"r":7,"v":1},{"c":92,"r":7,"v":1},{"c":93,"r":7,"v":1},{"c":94,"r":7,"v":1},{"c":95,"r":7,"v":1},{"c":96,"r":7,"v":1},{"c":97,"r":7,"v":1},{"c":98,"r":7,"v":1},{"c":99,"r":7,"v":1},
{"c":100,"r":7,"v":0},{"c":101,"r":7,"v":0},{"c":102,"r":7,"v":0},{"c":103,"r":7,"v":0},{"c":104,"r":7,"v":0},{"c":105,"r":7,"v":0},{"c":106,"r":7,"v":0},{"c":107,"r":7,"v":0},{"c":108,"r":7,"v":0},{"c":109,"r":7,"v":0},
{"c":110,"r":7,"v":0},{"c":111,"r":7,"v":0},{"c":112,"r":7,"v":0},{"c":113,"r":7,"v":0},{"c":114,"r":7,"v":0},{"c":115,"r":7,"v":0},{"c":116,"r":7,"v":0},{"c":117,"r":7,"v":0},{"c":118,"r":7,"v":0},{"c":119,"r":7,"v":0},
{"c":120,"r":7,"v":0},{"c":121,"r":7,"v":0},{"c":122,"r":7,"v":0},{"c":123,"r":7,"v":0},{"c":124,"r":7,"v":0},{"c":125,"r":7,"v":0},{"c":126,"r":7,"v":0},{"c":127,"r":7,"v":0},{"c":128,"r":7,"v":1},{"c":129,"r":7,"v":0},
{"c":130,"r":7,"v":0},{"c":131,"r":7,"v":0},{"c":132,"r":7,"v":0},{"c":133,"r":7,"v":0},{"c":134,"r":7,"v":0},{"c":135,"r":7,"v":0},{"c":136,"r":7,"v":0},{"c":137,"r":7,"v":0},{"c":138,"r":7,"v":1},{"c":139,"r":7,"v":0},
{"c":140,"r":7,"v":0},{"c":141,"r":7,"v":0},{"c":142,"r":7,"v":1},{"c":143,"r":7,"v":1},{"c":144,"r":7,"v":0},{"c":145,"r":7,"v":1},{"c":146,"r":7,"v":1},{"c":147,"r":7,"v":1},{"c":148,"r":7,"v":1},{"c":149,"r":7,"v":0},
{"c":150,"r":7,"v":0},{"c":151,"r":7,"v":1},{"c":152,"r":7,"v":0},{"c":153,"r":7,"v":0},{"c":154,"r":7,"v":0},{"c":155,"r":7,"v":0},{"c":156,"r":7,"v":0},{"c":157,"r":7,"v":1},{"c":158,"r":7,"v":1},{"c":159,"r":7,"v":1}
    ]
  },
  "data": {"name": "cells"},
  "layer": [
    {
      "mark": {"type": "rect", "strokeWidth": 0.8},
      "encoding": {
        "x": {
          "field": "c", "type": "ordinal", "sort": "ascending",
          "scale": {"paddingInner": 0, "paddingOuter": 0},
          "axis": {
            "orient": "bottom", "values": [0, 20, 40, 60, 80, 100, 120, 140],
            "title": null, "labelAngle": 0, "labelFont": "DejaVu Sans", "labelFontSize": 48,
            "labelColor": "black", "labelPadding": 32, "tickSize": -16, "tickWidth": 1.5, "tickColor": "black",
            "domainColor": "black", "domainWidth": 4, "grid": false, "zindex": 1
          }
        },
        "y": {
          "field": "r", "type": "ordinal", "sort": "ascending",
          "scale": {"paddingInner": 0, "paddingOuter": 0},
          "axis": {
            "orient": "left", "title": null, "labelFont": "DejaVu Sans", "labelFontSize": 48,
            "labelColor": "black", "labelPadding": 32, "tickSize": -16, "tickWidth": 1.5, "tickColor": "black",
            "domainColor": "black", "domainWidth": 4, "grid": false, "zindex": 1
          }
        },
        "color": {
          "field": "v", "type": "quantitative",
          "scale": {"domain": [0, 1], "range": ["#008066", "#ffff66"], "interpolate": "rgb"},
          "legend": null
        },
        "stroke": {
          "field": "v", "type": "quantitative",
          "scale": {"domain": [0, 1], "range": ["#008066", "#ffff66"], "interpolate": "rgb"},
          "legend": null
        }
      }
    },
    {
      "mark": {"type": "rect", "opacity": 0},
      "encoding": {
        "x": {
          "field": "c", "type": "ordinal", "sort": "ascending",
          "axis": {
            "orient": "top", "values": [0, 20, 40, 60, 80, 100, 120, 140],
            "title": null, "labels": false, "tickSize": -16, "tickWidth": 1.5, "tickColor": "black",
            "domainColor": "black", "domainWidth": 4, "grid": false, "zindex": 1
          }
        },
        "y": {
          "field": "r", "type": "ordinal", "sort": "ascending",
          "axis": {
            "orient": "right", "title": null, "labels": false, "tickSize": -16, "tickWidth": 1.5, "tickColor": "black",
            "domainColor": "black", "domainWidth": 4, "grid": false, "zindex": 1
          }
        }
      }
    }
  ],
  "resolve": {"axis": {"x": "independent", "y": "independent"}}
}
